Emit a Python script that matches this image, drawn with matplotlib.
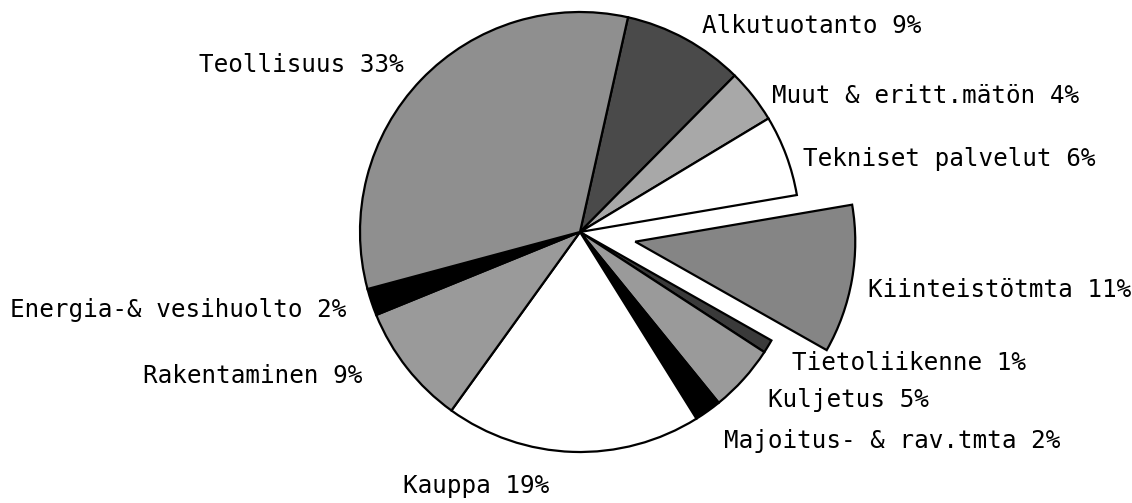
"""Toimialajakauma — piirakkakaavio, yksi lohko irrotettuna"""

import matplotlib
matplotlib.use("Agg")
import matplotlib.pyplot as plt

# Toimialat myötäpäivään alkaen ylhäältä
categories = ["Alkutuotanto", "Muut & eritt.mätön", "Tekniset palvelut",
              "Kiinteistötmta", "Tietoliikenne", "Kuljetus",
              "Majoitus- & rav.tmta", "Kauppa", "Rakentaminen",
              "Energia-& vesihuolto", "Teollisuus"]
shares = [9, 4, 6, 11, 1, 5, 2, 19, 9, 2, 33]
exploded = ["Kiinteistötmta"]

# sävyt (alkuperäinen on rasteroitu mustavalkoinen)
fills = ["#4a4a4a", "#a8a8a8", "#ffffff", "#858585", "#3a3a3a", "#9a9a9a",
         "#000000", "#ffffff", "#9a9a9a", "#000000", "#8f8f8f"]

# tekstien paikat pikseleinä (vasen reuna, peruslinja ylhäältä mitattuna)
label_pos = {
    "Alkutuotanto": (702, 33),
    "Muut & eritt.mätön": (772, 103),
    "Tekniset palvelut": (803, 166),
    "Kiinteistötmta": (868, 297),
    "Tietoliikenne": (792, 370),
    "Kuljetus": (768, 407),
    "Majoitus- & rav.tmta": (724, 448),
    "Kauppa": (403, 493),
    "Rakentaminen": (143, 383),
    "Energia-& vesihuolto": (10, 317),
    "Teollisuus": (199, 72),
}

W, H = 1132, 503
R = 220
fig = plt.figure(figsize=(W / 100, H / 100), dpi=100)
ax = fig.add_axes([0, 0, 1, 1])

explode = [0.255 * R if c in exploded else 0 for c in categories]
ax.pie(shares, explode=explode, colors=fills, startangle=77.4,
       counterclock=False, radius=R, center=(580, H - 232),
       wedgeprops=dict(edgecolor="black", linewidth=1.6), frame=False)
ax.set_xlim(0, W)
ax.set_ylim(0, H)
ax.set_aspect("equal")
ax.axis("off")

for cat, val in zip(categories, shares):
    x, y = label_pos[cat]
    ax.text(x, H - y, f"{cat} {val}%", ha="left", va="baseline",
            fontsize=17.5, family="DejaVu Sans Mono")

fig.savefig("out.png", dpi=100, facecolor="white")
